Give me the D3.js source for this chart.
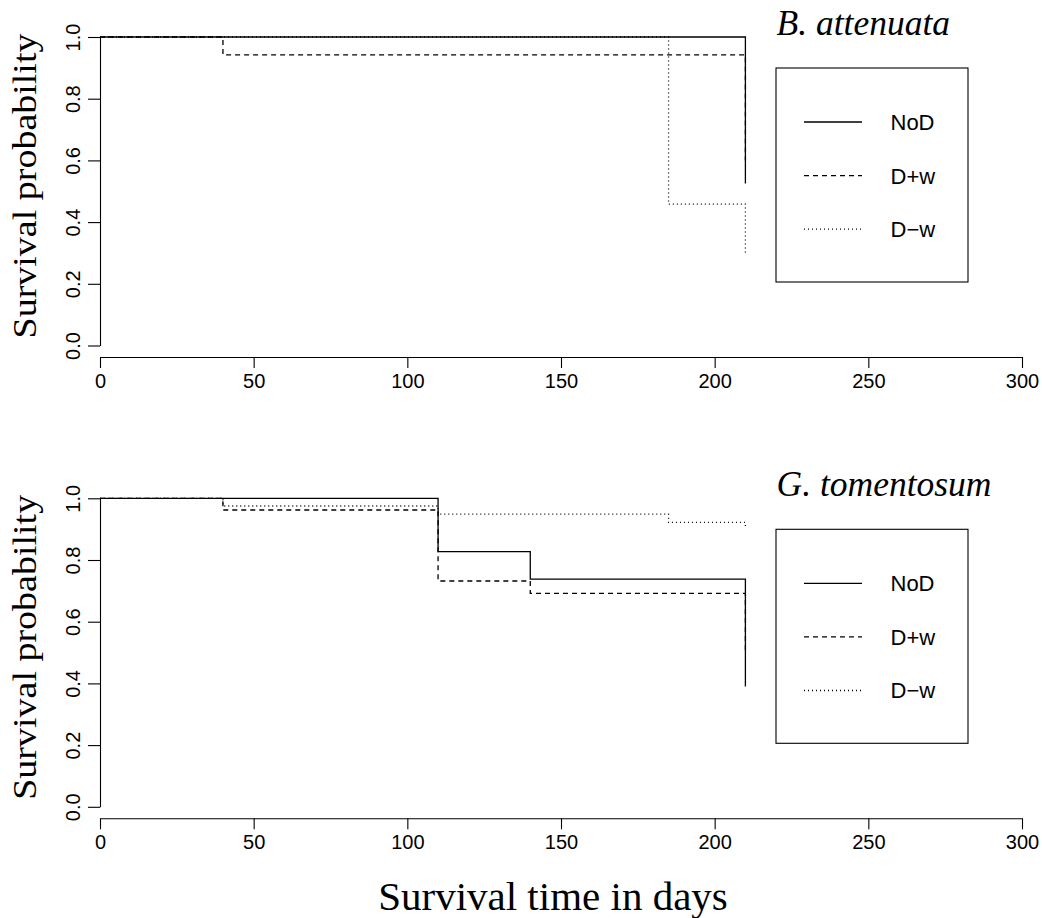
<!DOCTYPE html>
<html>
<head>
<meta charset="utf-8">
<script src="https://cdn.jsdelivr.net/npm/d3@7"></script>
<style>
  body { margin: 0; background: #fff; }
  .tick text { font-family: "Liberation Sans", Arial, sans-serif; }
</style>
</head>
<body>
<div id="chart"></div>
<script>
// data: [time, survival] knots of each Kaplan-Meier curve
var groups = ["NoD", "D+w", "D\u2212w"];
var xTicks = [0, 50, 100, 150, 200, 250, 300];
var yTicks = [0, 0.2, 0.4, 0.6, 0.8, 1.0];

var attenuataNoD = [[0, 1], [210, 0.525]];
var attenuataDw = [[0, 1], [40, 0.942], [210, 0.6]];
var attenuataDnw = [[0, 1], [185, 0.458], [210, 0.296]];

var tomentosumNoD = [[0, 1], [110, 0.827], [140, 0.738], [210, 0.39]];
var tomentosumDw = [[0, 1], [40, 0.962], [110, 0.732], [140, 0.692], [210, 0.5]];
var tomentosumDnw = [[0, 1], [40, 0.975], [110, 0.949], [185, 0.922], [210, 0.904]];

var dashes = ["none", "5,4", "1,3"];

var width = 1042, height = 918;

var svg = d3.select("#chart").append("svg")
  .attr("width", width)
  .attr("height", height);

svg.append("rect").attr("width", width).attr("height", height).attr("fill", "#fff");

// shared x scale
var x = d3.scaleLinear().domain([0, 300]).range([100, 1022]);

function panel(top, title, curves) {
  // top = pixel position of survival 1.0
  var y = d3.scaleLinear().domain([0, 1]).range([top + 308.5, top]);
  var g = svg.append("g");

  // x axis
  var xa = g.append("g")
    .attr("transform", "translate(0," + (top + 320) + ")")
    .call(d3.axisBottom(x).tickValues(xTicks).tickSize(11).tickSizeOuter(0).tickFormat(d3.format("d")));
  xa.selectAll("text").attr("y", 31).attr("dy", 0).style("font-size", "20px").attr("fill", "#000");

  // y axis, labels turned like R does
  var ya = g.append("g")
    .attr("transform", "translate(100,0)")
    .call(d3.axisLeft(y).tickValues(yTicks).tickSize(12).tickSizeOuter(0).tickFormat(d3.format(".1f")));
  ya.selectAll("text")
    .attr("x", 0).attr("y", 0).attr("dy", 0)
    .attr("transform", "translate(-20,0) rotate(-90)")
    .style("text-anchor", "middle")
    .style("font-size", "20px")
    .attr("fill", "#000");
  svg.selectAll(".domain, .tick line").attr("stroke", "#000").attr("stroke-width", 1.1);

  // y label
  g.append("text")
    .attr("transform", "translate(36," + (top + 149) + ") rotate(-90) scale(1,0.88)")
    .style("text-anchor", "middle")
    .style("font-family", "'Liberation Serif', 'Times New Roman', serif")
    .style("font-size", "38px")
    .text("Survival probability");

  // the step curves
  var line = d3.line()
    .curve(d3.curveStepAfter)
    .x(function(d) { return x(d[0]); })
    .y(function(d) { return y(d[1]); });

  curves.forEach(function(c, i) {
    g.append("path")
      .datum(c)
      .attr("d", line)
      .attr("fill", "none")
      .attr("stroke", "#000")
      .attr("stroke-width", 1.3)
      .attr("stroke-dasharray", dashes[i]);
  });

  // species name
  g.append("text")
    .attr("x", 776.5)
    .attr("y", top - 2)
    .style("font-family", "'Liberation Serif', 'Times New Roman', serif")
    .style("font-style", "italic")
    .style("font-size", "35.5px")
    .text(title);

  // legend
  var boxTop = top + 31;
  g.append("rect")
    .attr("x", 776).attr("y", boxTop)
    .attr("width", 192).attr("height", 214)
    .attr("fill", "none").attr("stroke", "#000").attr("stroke-width", 1.1);
  groups.forEach(function(name, i) {
    var ly = boxTop + 54 + i * 53.6;
    g.append("line")
      .attr("x1", 804).attr("x2", 862)
      .attr("y1", ly).attr("y2", ly)
      .attr("stroke", "#000").attr("stroke-width", 1.3)
      .attr("stroke-dasharray", dashes[i]);
    g.append("text")
      .attr("x", 890.5).attr("y", ly)
      .attr("dy", "0.36em")
      .style("font-family", "'Liberation Sans', Arial, sans-serif")
      .style("font-size", "22px")
      .text(name);
  });
}

panel(37, "B. attenuata", [attenuataNoD, attenuataDw, attenuataDnw]);
panel(498.3, "G. tomentosum", [tomentosumNoD, tomentosumDw, tomentosumDnw]);

// x label
svg.append("text")
  .attr("x", 553)
  .attr("y", 910)
  .style("text-anchor", "middle")
  .style("font-family", "'Liberation Serif', 'Times New Roman', serif")
  .style("font-size", "41px")
  .text("Survival time in days");
</script>
</body>
</html>
